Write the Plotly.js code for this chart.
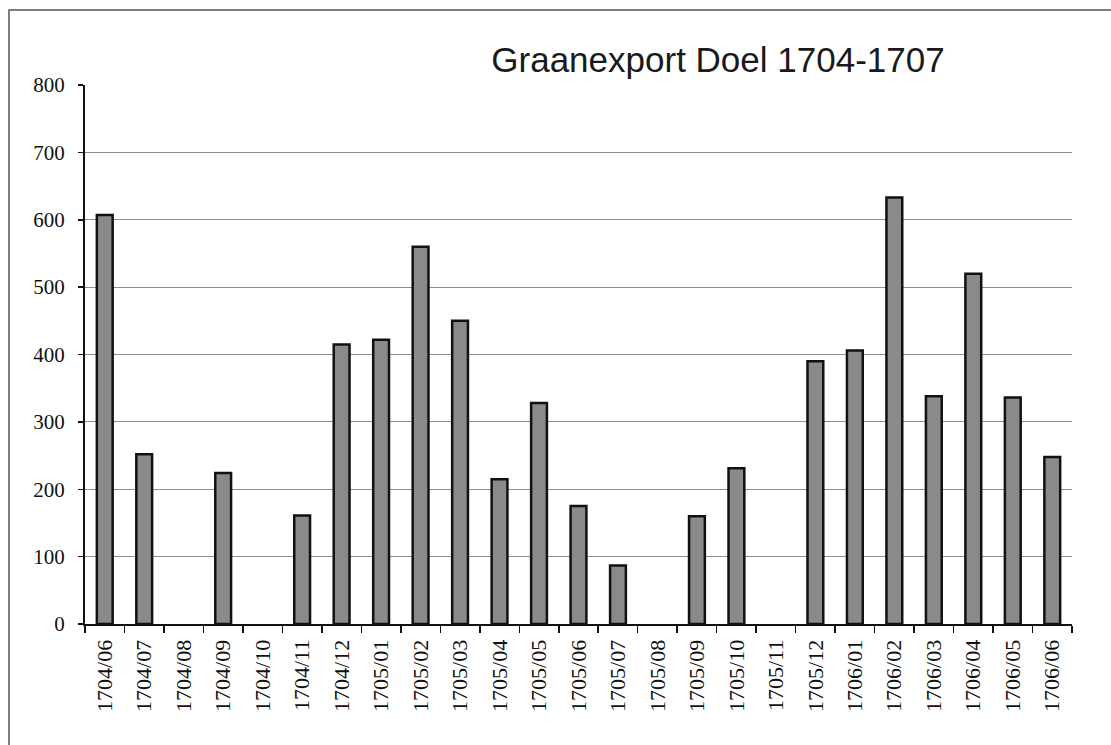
<!DOCTYPE html>
<html>
<head>
<meta charset="utf-8">
<script src="https://cdn.plot.ly/plotly-3.0.1.min.js"></script>
<style>
html,body{margin:0;padding:0;background:#fff;}
#chart{width:1111px;height:745px;}
</style>
</head>
<body>
<div id="chart"></div>
<script>
const months = ["1704/06","1704/07","1704/08","1704/09","1704/10","1704/11","1704/12",
  "1705/01","1705/02","1705/03","1705/04","1705/05","1705/06","1705/07","1705/08",
  "1705/09","1705/10","1705/11","1705/12","1706/01","1706/02","1706/03","1706/04",
  "1706/05","1706/06"];
const exportValues = [607,252,0,224,0,161,415,422,560,450,215,328,175,87,0,
  160,231,0,390,406,633,338,520,336,248];
const yTicks = [0,100,200,300,400,500,600,700,800];
const chartTitle = "Graanexport Doel 1704-1707";

const W = 1111, H = 745;
const L = 85, R = 1072, T = 85, B = 624;

const trace = {
  type: 'bar',
  x: months,
  y: exportValues,
  marker: {
    color: '#8a8a8a',
    line: {color: '#111111', width: exportValues.map(v => v > 0 ? 2.5 : 0)}
  },
  hoverinfo: 'x+y'
};

const layout = {
  width: W, height: H,
  margin: {l: L, r: W - R, t: T, b: H - B, pad: 0},
  paper_bgcolor: '#ffffff',
  plot_bgcolor: '#ffffff',
  showlegend: false,
  bargap: 0.6,
  title: {
    text: chartTitle,
    font: {family: 'Liberation Sans, Arial, sans-serif', size: 35, color: '#1a1a1a'},
    xref: 'container', yref: 'container',
    x: 718 / W, xanchor: 'center',
    y: 1 - 60 / H, yanchor: 'middle'
  },
  xaxis: {
    type: 'category',
    tickangle: -90,
    tickfont: {family: 'Liberation Serif, Times New Roman, serif', size: 22, color: '#111111'},
    showline: true, linecolor: '#111111', linewidth: 2,
    ticks: 'outside', tickson: 'boundaries', ticklen: 7, tickcolor: '#111111', tickwidth: 1.5,
    ticklabelstandoff: 5,
    showgrid: false, zeroline: false,
    fixedrange: true
  },
  yaxis: {
    range: [0, 800],
    tickvals: yTicks,
    tickfont: {family: 'Liberation Serif, Times New Roman, serif', size: 21, color: '#111111'},
    showline: true, linecolor: '#111111', linewidth: 2,
    ticks: 'outside', ticklen: 5, tickcolor: '#111111', tickwidth: 1.5,
    ticklabelstandoff: 9,
    showgrid: true, gridcolor: '#8f8f8f', gridwidth: 1,
    zeroline: false,
    fixedrange: true
  },
  shapes: [
    {type: 'rect', xref: 'paper', yref: 'paper', layer: 'above',
     x0: (9 - L) / (R - L), x1: (1125 - L) / (R - L),
     y0: (B - 770) / (B - T), y1: (B - 10) / (B - T),
     line: {color: '#555555', width: 1.5}, fillcolor: 'rgba(0,0,0,0)'}
  ]
};

Plotly.newPlot('chart', [trace], layout, {displayModeBar: false, staticPlot: true});
</script>
</body>
</html>
